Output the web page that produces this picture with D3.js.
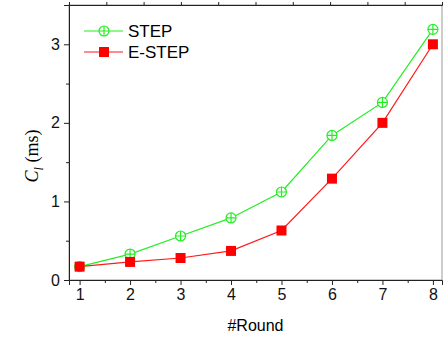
<!DOCTYPE html>
<html>
<head>
<meta charset="utf-8">
<script src="https://cdn.jsdelivr.net/npm/d3@7"></script>
<style>
  body { margin: 0; background: #fff; }
  text { font-family: "Liberation Sans", Arial, sans-serif; }
</style>
</head>
<body>
<svg width="443" height="341"></svg>
<script>
var rounds = [1, 2, 3, 4, 5, 6, 7, 8];
var step = [0.17, 0.33, 0.56, 0.79, 1.12, 1.84, 2.26, 3.19];
var estep = [0.17, 0.23, 0.28, 0.37, 0.63, 1.29, 2.0, 3.0];
var yTicks = [0, 1, 2, 3];
var seriesNames = ["STEP", "E-STEP"];

var svg = d3.select("svg");
var pLeft = 69, pRight = 442, pTop = 5, pBottom = 280;

var x = d3.scaleLinear().domain([0.79, 8.18]).range([pLeft, pRight]);
var y = d3.scaleLinear().domain([0, 3.5]).range([pBottom, pTop]);

// frame
svg.append("rect")
  .attr("x", pLeft).attr("y", pTop)
  .attr("width", pRight - pLeft).attr("height", pBottom - pTop)
  .attr("fill", "none").attr("stroke", "#999").attr("stroke-width", 1);

// x axis
svg.append("g")
  .attr("transform", "translate(0," + pBottom + ")")
  .call(d3.axisBottom(x).tickValues(rounds).tickSize(5).tickPadding(4).tickFormat(d3.format("d")));
svg.append("g")
  .attr("transform", "translate(0," + pBottom + ")")
  .call(d3.axisBottom(x).tickValues(d3.range(1.5, 8, 1)).tickSize(3).tickFormat(""))
  .select(".domain").remove();

// y axis
svg.append("g")
  .attr("transform", "translate(" + pLeft + ",0)")
  .call(d3.axisLeft(y).tickValues(yTicks).tickSize(5).tickPadding(4).tickFormat(d3.format("d")));
svg.append("g")
  .attr("transform", "translate(" + pLeft + ",0)")
  .call(d3.axisLeft(y).tickValues([0.5, 1.5, 2.5]).tickSize(3).tickFormat(""))
  .select(".domain").remove();

// top axis ticks
var xt = d3.scaleLinear().domain([0, 10]).range([pLeft, pRight]);
svg.append("g")
  .attr("transform", "translate(0," + pTop + ")")
  .call(d3.axisTop(xt).tickValues(d3.range(1, 10)).tickSize(3).tickFormat(""));

svg.selectAll(".domain").attr("stroke", "#222");
svg.selectAll(".tick line").attr("stroke", "#222");
svg.selectAll(".tick text").attr("font-size", 16).attr("fill", "#111")
  .style("font-family", "Liberation Sans, Arial, sans-serif");

// axis labels
svg.append("text")
  .attr("x", (pLeft + pRight) / 2).attr("y", 331)
  .attr("text-anchor", "middle").attr("font-size", 16)
  .text("#Round");

var yl = svg.append("text")
  .attr("transform", "translate(38,156) rotate(-90)")
  .attr("text-anchor", "middle")
  .style("font-family", "Liberation Serif, Times New Roman, serif")
  .attr("font-size", 18);
yl.append("tspan").attr("font-style", "italic").text("C");
yl.append("tspan").attr("font-size", 12).attr("dy", 5).attr("font-style", "italic").text("l");
yl.append("tspan").attr("dy", -5).text(" (ms)");

var line = d3.line().x(function(d, i) { return x(rounds[i]); }).y(function(d) { return y(d); });

// STEP
svg.append("path").datum(step)
  .attr("d", line).attr("fill", "none").attr("stroke", "#22ee22").attr("stroke-width", 1.2);
// E-STEP
svg.append("path").datum(estep)
  .attr("d", line).attr("fill", "none").attr("stroke", "#ff1a1a").attr("stroke-width", 1.2);

function circlePlus(g, cx, cy) {
  g.append("circle").attr("cx", cx).attr("cy", cy).attr("r", 5)
    .attr("fill", "#fff").attr("stroke", "#22ee22").attr("stroke-width", 1.2);
  g.append("path")
    .attr("d", "M" + (cx - 5) + "," + cy + "H" + (cx + 5) + "M" + cx + "," + (cy - 5) + "V" + (cy + 5))
    .attr("stroke", "#22ee22").attr("stroke-width", 1.2);
}
function square(g, cx, cy) {
  g.append("rect").attr("x", cx - 5).attr("y", cy - 5).attr("width", 10).attr("height", 10)
    .attr("fill", "#ff0000");
}

var gStep = svg.append("g");
step.forEach(function(d, i) { circlePlus(gStep, x(rounds[i]), y(d)); });
var gE = svg.append("g");
estep.forEach(function(d, i) { square(gE, x(rounds[i]), y(d)); });

// legend
var leg = svg.append("g");
leg.append("line").attr("x1", 84).attr("x2", 123).attr("y1", 31).attr("y2", 31)
  .attr("stroke", "#22ee22").attr("stroke-width", 1.2);
circlePlus(leg, 104, 31);
leg.append("text").attr("x", 128).attr("y", 37).attr("font-size", 17).text(seriesNames[0]);
leg.append("line").attr("x1", 84).attr("x2", 123).attr("y1", 52).attr("y2", 52)
  .attr("stroke", "#ff1a1a").attr("stroke-width", 1.2);
square(leg, 104, 52);
leg.append("text").attr("x", 128).attr("y", 58).attr("font-size", 17).text(seriesNames[1]);
</script>
</body>
</html>
